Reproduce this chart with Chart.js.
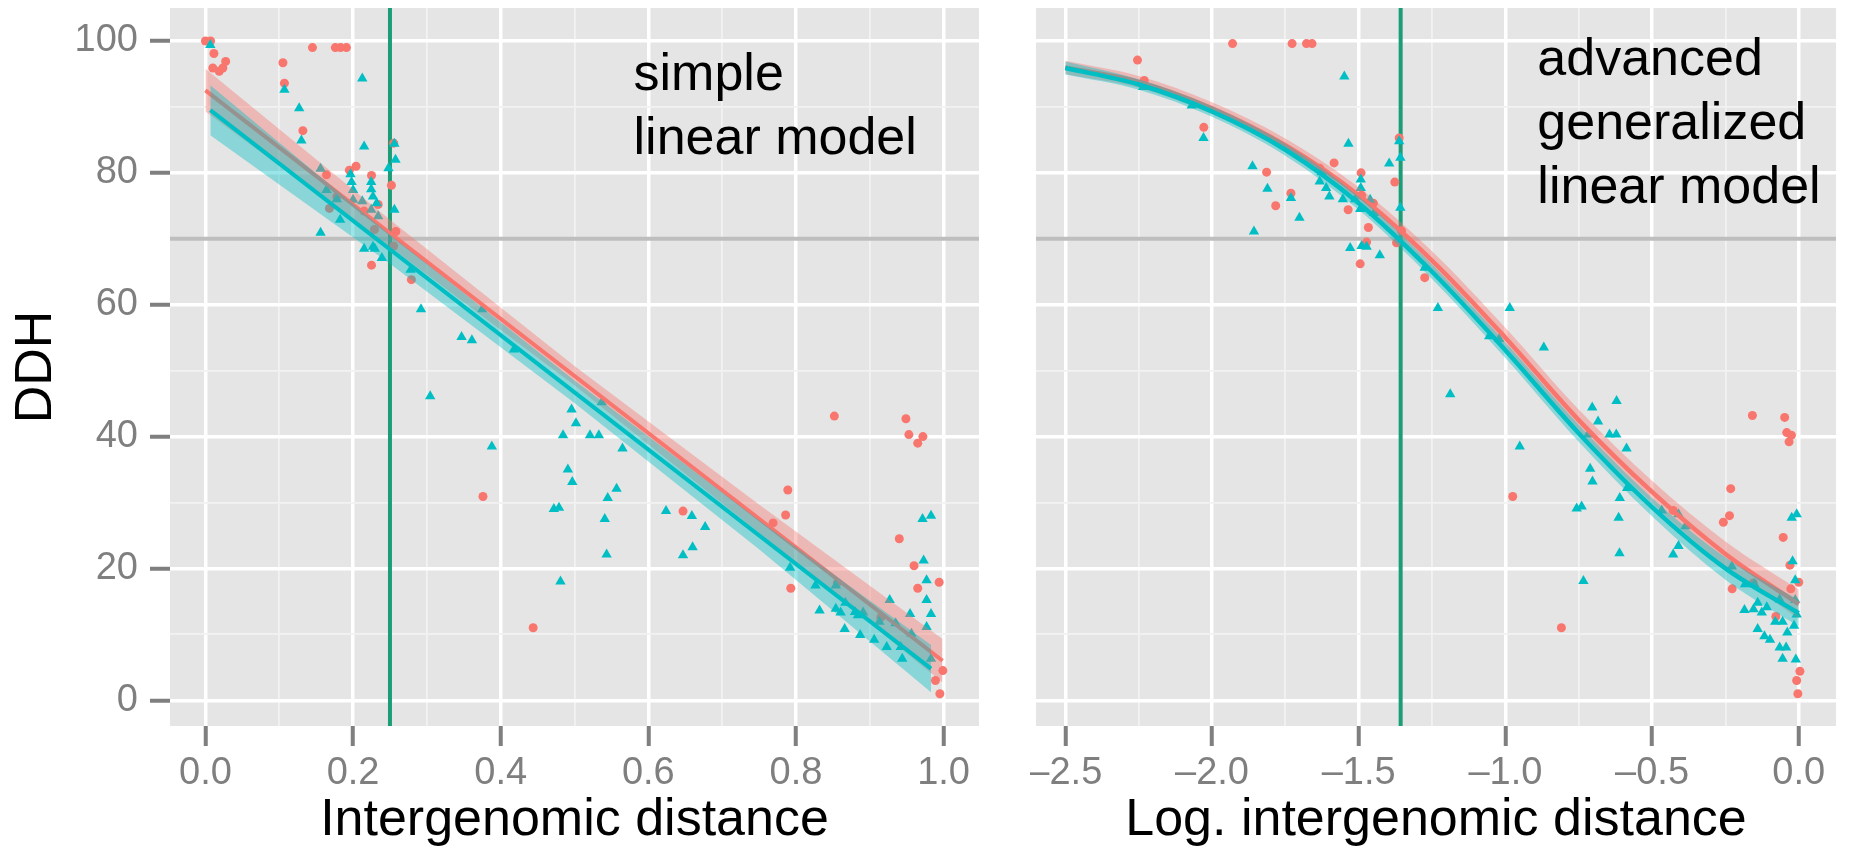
<!DOCTYPE html>
<html>
<head>
<meta charset="utf-8">
<script src="https://cdn.jsdelivr.net/npm/chart.js@4.4.1/dist/chart.umd.min.js"></script>
<style>
  html, body { margin: 0; padding: 0; background: #fff; }
  #wrap { position: relative; width: 1856px; height: 852px; overflow: hidden; }
  canvas { position: absolute; top: 0; }
  #left { left: 0; }
  #right { left: 1030px; }
</style>
</head>
<body>
<div id="wrap">
  <canvas id="left" width="1000" height="852"></canvas>
  <canvas id="right" width="826" height="852"></canvas>
</div>
<script>
// --- left panel: raw distance ---
// red circles
const distRed = [0.000, 0.007, 0.0115, 0.010, 0.0187, 0.0236, 0.0274, 0.105, 0.107, 0.145, 0.176, 0.183, 0.191,
  0.132, 0.204, 0.195, 0.225, 0.164, 0.178, 0.168, 0.215, 0.234, 0.229, 0.225, 0.255, 0.252, 0.258, 0.255, 0.279,
  0.376, 0.444, 0.647, 0.852, 0.789, 0.786, 0.769, 0.793, 0.949, 0.953, 0.965, 0.972, 0.940, 0.960, 0.965, 0.994,
  0.915, 0.999, 0.989, 0.995, 0.856];
const ddhRed = [100.0, 100.0, 98.1, 95.9, 95.4, 95.9, 96.9, 96.7, 93.6, 99.0, 99.0, 99.0, 99.0,
  86.4, 81.0, 80.4, 79.6, 79.7, 76.4, 74.6, 74.2, 75.2, 71.4, 66.0, 84.5, 78.1, 71.1, 68.9, 63.8,
  30.9, 11.0, 28.7, 43.1, 31.9, 28.1, 26.9, 17.0, 42.7, 40.3, 39.0, 40.0, 24.5, 20.4, 17.0, 17.9,
  12.6, 4.5, 3.0, 1.0, 17.8];
// cyan triangles
const distCyan = [0.0066, 0.107, 0.127, 0.130, 0.2125, 0.215, 0.156, 0.164, 0.178, 0.156, 0.1825, 0.1965, 0.198, 0.200,
  0.200, 0.2125, 0.2246, 0.2246, 0.227, 0.2246, 0.232, 0.234, 0.215, 0.227, 0.2295, 0.239, 0.248, 0.256, 0.2575,
  0.256, 0.278, 0.292, 0.3045, 0.347, 0.361, 0.375, 0.418, 0.388,
  0.496, 0.502, 0.4845, 0.521, 0.533, 0.537, 0.565, 0.491, 0.497, 0.557, 0.545, 0.472, 0.479, 0.541, 0.5435, 0.481,
  0.624, 0.659, 0.677, 0.660, 0.647, 0.792, 0.8265, 0.854, 0.832, 0.854, 0.8605, 0.867, 0.866, 0.880, 0.884, 0.891,
  0.887, 0.906, 0.913, 0.927, 0.935, 0.923, 0.942, 0.944, 0.9546, 0.9565, 0.973, 0.977, 0.977, 0.983, 0.977, 0.983,
  0.9715, 0.983];
const ddhCyan = [99.4, 92.6, 89.8, 84.9, 94.3, 84.0, 80.6, 77.4, 76.0, 70.9, 72.9, 79.8, 78.6, 77.4,
  75.9, 75.7, 78.6, 77.5, 76.4, 74.4, 75.4, 73.4, 68.5, 68.8, 68.5, 67.1, 80.7, 84.4, 82.0,
  74.4, 65.3, 59.3, 46.1, 55.1, 54.6, 59.3, 53.2, 38.5,
  44.1, 42.0, 40.2, 40.2, 40.2, 45.2, 38.2, 35.0, 33.1, 32.1, 30.7, 29.0, 29.2, 27.5, 22.1, 18.0,
  28.7, 27.95, 26.3, 23.2, 22.0, 20.1, 17.4, 17.4, 13.6, 13.9, 13.3, 14.8, 10.8, 13.4, 12.9, 13.3,
  9.9, 9.2, 11.9, 15.2, 11.7, 8.1, 8.1, 6.3, 13.1, 10.1, 21.2, 18.2, 15.2, 13.1, 11.1, 6.3,
  27.5, 28.0];
// linear fits and their confidence bands
const lmDistRed = [0.0, 0.9986];
const lmDDHRed = [92.5, 6.0];
const lmDistCyan = [0.0066, 0.983];
const lmDDHCyan = [89.5, 4.8];
const bandDistRed = [0.0, 0.25, 0.5, 0.75, 0.9986];
const bandHiRed = [95.8, 72.9, 50.7, 29.7, 9.3];
const bandLoRed = [89.3, 68.8, 47.8, 25.4, 2.7];
const bandDistCyan = [0.0066, 0.25, 0.5, 0.75, 0.983];
const bandHiCyan = [93.3, 70.6, 48.5, 27.3, 8.4];
const bandLoCyan = [85.7, 66.2, 45.1, 22.9, 1.2];

// --- right panel: log distance ---
const logRed = [-2.254, -2.231, -1.930, -1.727, -1.678, -1.659, -2.028, -1.814, -1.731, -1.783, -1.633, -1.584,
  -1.492, -1.490, -1.536, -1.45, -1.467, -1.473, -1.495, -1.377, -1.362, -1.354, -1.371, -1.275,
  -0.975, -0.809, -0.428, -0.158, -0.232, -0.236, -0.257, -0.227, -0.048, -0.041, -0.025, -0.033, -0.053,
  -0.030, -0.027, 0.0, -0.078, 0.004, -0.007, -0.003, -0.155];
const logDDHRed = [97.1, 94.0, 99.6, 99.6, 99.6, 99.6, 86.9, 80.1, 76.9, 75.0, 80.7, 81.5,
  80.0, 76.6, 74.4, 75.4, 71.7, 69.5, 66.2, 78.6, 85.3, 71.2, 69.4, 64.1,
  30.9, 11.0, 28.8, 43.2, 32.1, 28.0, 27.0, 16.9, 42.9, 40.6, 40.2, 39.2, 24.7,
  20.5, 16.9, 17.9, 12.7, 4.4, 3.0, 1.0, 17.8];
const logCyan = [-2.235, -2.069, -2.029, -1.862, -1.811, -1.857, -1.731, -1.702, -1.549, -1.535, -1.626, -1.633,
  -1.611, -1.600, -1.554, -1.512, -1.493, -1.493, -1.461, -1.495, -1.448, -1.529, -1.490, -1.473, -1.428,
  -1.396, -1.362, -1.358, -1.358, -1.275, -1.230, -1.188, -1.055, -1.021, -0.985, -0.869, -0.951,
  -0.704, -0.621, -0.684, -0.718, -0.645, -0.622, -0.587, -0.711, -0.703, -0.585, -0.610, -0.757, -0.740,
  -0.614, -0.611, -0.734, -0.467, -0.410, -0.386, -0.410, -0.428, -0.228, -0.183, -0.151, -0.185, -0.154,
  -0.140, -0.126, -0.109, -0.140, -0.117, -0.098, -0.065, -0.080, -0.055, -0.039, -0.065, -0.043, -0.055,
  -0.010, -0.024, -0.007, -0.021, -0.012, -0.012, -0.007, -0.016];
const logDDHCyan = [93.0, 90.2, 85.3, 81.0, 77.6, 71.1, 76.2, 73.2, 94.6, 84.4, 80.1, 78.7,
  77.7, 76.4, 76.0, 76.0, 79.0, 77.7, 75.9, 74.5, 73.9, 68.6, 68.9, 68.8, 67.5,
  81.4, 84.8, 82.3, 74.7, 65.6, 59.5, 46.4, 55.2, 54.8, 59.5, 53.5, 38.5,
  44.4, 45.4, 42.3, 40.3, 40.3, 40.3, 38.2, 35.1, 33.2, 32.2, 30.7, 29.1, 29.4,
  27.7, 22.3, 18.1, 28.8, 28.2, 26.4, 23.4, 22.1, 20.3, 17.6, 17.6, 13.7, 13.8,
  14.8, 13.3, 14.1, 10.8, 9.7, 9.2, 15.3, 11.9, 11.9, 10.3, 8.0, 8.0, 6.3,
  6.2, 27.7, 28.2, 21.1, 18.2, 15.2, 13.0, 11.3];
// glm fits and their bands
const curveLog = [-2.5, -2.25, -2.0, -1.75, -1.5, -1.25, -1.0, -0.75, -0.5, -0.25, 0.0];
const curveRed = [96.0, 93.8, 89.8, 84.2, 76.6, 66.7, 55.0, 42.5, 31.6, 22.2, 14.6];
const curveHiRed = [97.0, 94.7, 90.7, 85.2, 77.8, 68.1, 56.5, 44.1, 33.3, 24.1, 16.8];
const curveLoRed = [95.0, 92.9, 88.9, 83.2, 75.4, 65.3, 53.5, 40.9, 29.9, 20.3, 12.4];
const curveCyan = [95.9, 93.4, 89.3, 83.5, 75.4, 65.0, 53.1, 40.5, 29.3, 20.0, 13.2];
const curveHiCyan = [96.9, 94.2, 90.1, 84.4, 76.4, 66.1, 54.3, 41.8, 30.7, 21.7, 15.2];
const curveLoCyan = [94.9, 92.6, 88.5, 82.6, 74.4, 63.9, 51.9, 39.2, 27.9, 18.3, 11.2];

// cutoffs
const cutDDH = 70;
const cutDist = 0.25;
const cutLogDist = -1.357;

const RED = '#F8766D';
const CYAN = '#00BFC4';
const FONT = '"Liberation Sans", Arial, Helvetica, sans-serif';
Chart.defaults.font.family = FONT;

const pts = (xs, ys) => xs.map((x, i) => ({ x: x, y: ys[i] }));
const isMajor = (v, step) => Math.abs(v / step - Math.round(v / step)) < 1e-6;

// ggplot-like grid: white major lines, pale minor lines
function gridOpts(step, ticks) {
  return {
    color: c => isMajor(c.tick.value, step) ? '#FFFFFF' : '#F2F2F2',
    lineWidth: c => isMajor(c.tick.value, step) ? 3.5 : 1.8,
    drawTicks: ticks,
    tickLength: 20,
    tickWidth: 4,
    tickColor: c => isMajor(c.tick.value, step) ? '#7F7F7F' : 'rgba(0,0,0,0)'
  };
}

const panelBg = {
  id: 'panelBg',
  beforeDraw(chart) {
    const { ctx, chartArea: a } = chart;
    ctx.save();
    ctx.fillStyle = '#E5E5E5';
    ctx.fillRect(a.left, a.top, a.right - a.left, a.bottom - a.top);
    ctx.restore();
  }
};

const refLines = {
  id: 'refLines',
  beforeDatasetsDraw(chart, args, opts) {
    const { ctx, chartArea: a, scales } = chart;
    ctx.save();
    ctx.beginPath();
    ctx.rect(a.left, a.top, a.right - a.left, a.bottom - a.top);
    ctx.clip();
    ctx.lineWidth = 4;
    const py = scales.y.getPixelForValue(opts.h);
    ctx.strokeStyle = '#BEBEBE';
    ctx.beginPath(); ctx.moveTo(a.left, py); ctx.lineTo(a.right, py); ctx.stroke();
    const px = scales.x.getPixelForValue(opts.v);
    ctx.strokeStyle = '#1B9E77';
    ctx.beginPath(); ctx.moveTo(px, a.top); ctx.lineTo(px, a.bottom); ctx.stroke();
    ctx.restore();
  }
};

const notes = {
  id: 'notes',
  afterDatasetsDraw(chart, args, opts) {
    const { ctx, scales } = chart;
    const x0 = scales.x.getPixelForValue(opts.at[0]);
    const y0 = scales.y.getPixelForValue(opts.at[1]);
    ctx.save();
    ctx.font = '52px ' + FONT;
    ctx.fillStyle = '#000';
    ctx.textAlign = 'left';
    ctx.textBaseline = 'alphabetic';
    opts.lines.forEach((t, i) => ctx.fillText(t, x0, y0 + i * 64));
    ctx.restore();
  }
};

function datasets(p, fit) {
  return [
    { data: p.red, pointStyle: 'circle', pointRadius: 4.5, backgroundColor: RED, borderWidth: 0, order: 6 },
    { data: p.cyan, pointStyle: 'triangle', pointRadius: 6, backgroundColor: CYAN, borderWidth: 0, order: 5 },
    { data: fit.redHi, showLine: true, fill: '+1', backgroundColor: 'rgba(248,118,109,0.4)',
      borderColor: 'rgba(0,0,0,0)', pointRadius: 0, tension: fit.tension, cubicInterpolationMode: fit.mode, order: 4 },
    { data: fit.redLo, showLine: true, fill: false, borderColor: 'rgba(0,0,0,0)', pointRadius: 0,
      tension: fit.tension, cubicInterpolationMode: fit.mode, order: 4 },
    { data: fit.red, showLine: true, fill: false, borderColor: RED, borderWidth: fit.width, pointRadius: 0,
      tension: fit.tension, cubicInterpolationMode: fit.mode, order: 3 },
    { data: fit.cyanHi, showLine: true, fill: '+1', backgroundColor: 'rgba(0,191,196,0.4)',
      borderColor: 'rgba(0,0,0,0)', pointRadius: 0, tension: fit.tension, cubicInterpolationMode: fit.mode, order: 2 },
    { data: fit.cyanLo, showLine: true, fill: false, borderColor: 'rgba(0,0,0,0)', pointRadius: 0,
      tension: fit.tension, cubicInterpolationMode: fit.mode, order: 2 },
    { data: fit.cyan, showLine: true, fill: false, borderColor: CYAN, borderWidth: fit.width, pointRadius: 0,
      tension: fit.tension, cubicInterpolationMode: fit.mode, order: 1 }
  ];
}

const tickFont = { size: 38, lineHeight: 1.2 };
const titleFont = { size: 52, lineHeight: 1.2 };

// left panel
new Chart(document.getElementById('left'), {
  type: 'scatter',
  data: {
    datasets: datasets(
      { red: pts(distRed, ddhRed), cyan: pts(distCyan, ddhCyan) },
      { red: pts(lmDistRed, lmDDHRed), redHi: pts(bandDistRed, bandHiRed), redLo: pts(bandDistRed, bandLoRed),
        cyan: pts(lmDistCyan, lmDDHCyan), cyanHi: pts(bandDistCyan, bandHiCyan), cyanLo: pts(bandDistCyan, bandLoCyan),
        tension: 0, mode: 'default', width: 4 })
  },
  options: {
    responsive: false,
    animation: false,
    events: [],
    layout: { padding: { left: 0, top: 8, right: 21, bottom: 0 } },
    plugins: {
      legend: { display: false },
      tooltip: { enabled: false },
      refLines: { h: cutDDH, v: cutDist },
      notes: { lines: ['simple', 'linear model'], at: [0.58, 92.5] }
    },
    scales: {
      x: {
        type: 'linear', min: -0.048, max: 1.048,
        border: { display: false },
        grid: gridOpts(0.2, true),
        ticks: { stepSize: 0.1, includeBounds: false, autoSkip: false, maxRotation: 0, minRotation: 0,
          padding: 5, color: '#7F7F7F', font: tickFont,
          callback: v => isMajor(v, 0.2) ? v.toFixed(1) : '' },
        title: { display: true, text: 'Intergenomic distance', color: '#000', font: titleFont, padding: { top: 0, bottom: 0 } },
        afterFit: s => { s.height = 126; s.paddingLeft = 0; s.paddingRight = 0; }
      },
      y: {
        type: 'linear', min: -3.9, max: 105,
        border: { display: false },
        grid: gridOpts(20, true),
        ticks: { stepSize: 10, includeBounds: false, autoSkip: false, padding: 12, color: '#7F7F7F', font: tickFont,
          callback: v => isMajor(v, 20) ? String(Math.round(v)) : '' },
        title: { display: true, text: 'DDH', color: '#000', font: titleFont, padding: { top: 5, bottom: 0 } },
        afterFit: s => { s.width = 170; s.paddingTop = 0; s.paddingBottom = 0; }
      }
    }
  },
  plugins: [panelBg, refLines, notes]
});

// right panel
new Chart(document.getElementById('right'), {
  type: 'scatter',
  data: {
    datasets: datasets(
      { red: pts(logRed, logDDHRed), cyan: pts(logCyan, logDDHCyan) },
      { red: pts(curveLog, curveRed), redHi: pts(curveLog, curveHiRed), redLo: pts(curveLog, curveLoRed),
        cyan: pts(curveLog, curveCyan), cyanHi: pts(curveLog, curveHiCyan), cyanLo: pts(curveLog, curveLoCyan),
        tension: 0.4, mode: 'monotone', width: 4.5 })
  },
  options: {
    responsive: false,
    animation: false,
    events: [],
    layout: { padding: { left: 1, top: 8, right: 20, bottom: 0 } },
    plugins: {
      legend: { display: false },
      tooltip: { enabled: false },
      refLines: { h: cutDDH, v: cutLogDist },
      notes: { lines: ['advanced', 'generalized', 'linear model'], at: [-0.891, 94.9] }
    },
    scales: {
      x: {
        type: 'linear', min: -2.6, max: 0.127,
        border: { display: false },
        grid: gridOpts(0.5, true),
        ticks: { stepSize: 0.25, includeBounds: false, autoSkip: false, maxRotation: 0, minRotation: 0,
          padding: 5, color: '#7F7F7F', font: tickFont,
          callback: v => isMajor(v, 0.5) ? v.toFixed(1).replace('-', '\u2013') : '' },
        title: { display: true, text: 'Log. intergenomic distance', color: '#000', font: titleFont, padding: { top: 0, bottom: 0 } },
        afterFit: s => { s.height = 126; s.paddingLeft = 0; s.paddingRight = 0; }
      },
      y: {
        type: 'linear', min: -3.9, max: 105,
        border: { display: false },
        grid: gridOpts(20, false),
        ticks: { display: false, stepSize: 10, includeBounds: false },
        afterFit: s => { s.width = 0; s.paddingTop = 0; s.paddingBottom = 0; }
      }
    }
  },
  plugins: [panelBg, refLines, notes]
});
</script>
</body>
</html>
